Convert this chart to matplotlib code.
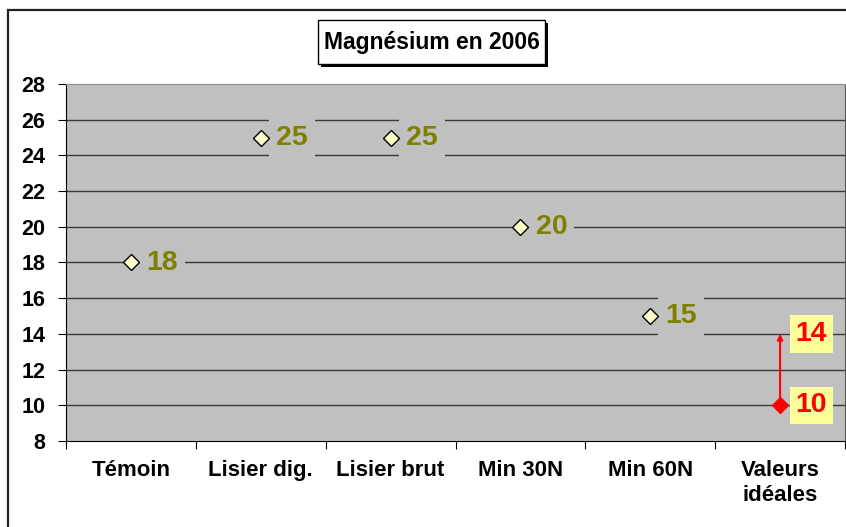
import matplotlib.pyplot as plt
from matplotlib.patches import Rectangle

plt.rcParams['font.family'] = ['Liberation Sans', 'DejaVu Sans']
plt.rcParams['font.weight'] = 'bold'

# Data
categories = ['Témoin', 'Lisier dig.', 'Lisier brut', 'Min 30N', 'Min 60N', 'Valeurs\nidéales']
mg_values = [18, 25, 25, 20, 15]
ideal_low = 10
ideal_high = 14
yticks = [8, 10, 12, 14, 16, 18, 20, 22, 24, 26, 28]

fig = plt.figure(figsize=(8.46, 5.27), dpi=100)
ax = fig.add_axes([66 / 846, 1 - 441 / 527, 779 / 846, 357 / 527])

# Outer chart frame
fig.patches.append(Rectangle((8 / 846, -0.05), 1.0, 1 - 10 / 527 + 0.05,
                             transform=fig.transFigure, fill=False,
                             edgecolor='#222222', lw=1.6, zorder=0))

ax.set_facecolor('#C0C0C0')
ax.set_xlim(0, 6)
ax.set_ylim(8, 28)
ax.set_yticks(yticks)
for y in yticks[1:-1]:
  ax.axhline(y, color='#3a3a3a', lw=1, zorder=1)

xpos = [i + 0.5 for i in range(len(categories))]

# Measured values
ax.plot(xpos[:5], mg_values, linestyle='none', marker='D', markersize=8,
        mfc='#FFFFCC', mec='black', mew=1, zorder=4)
for x, v in zip(xpos[:5], mg_values):
  ax.annotate(str(v), (x, v), xytext=(11, 0), textcoords='offset points',
              ha='left', va='center', fontsize=20.5, fontweight='bold', color='#808000',
              bbox=dict(boxstyle='square,pad=0.25', fc='#C0C0C0', ec='none'), zorder=3)

# Ideal range
ax.annotate('', xy=(xpos[5], ideal_high), xytext=(xpos[5], ideal_low),
            arrowprops=dict(arrowstyle='-|>', color='red', lw=1.5, mutation_scale=8,
                            shrinkA=0, shrinkB=0), zorder=4)
ax.plot([xpos[5]], [ideal_low], linestyle='none', marker='D', markersize=8,
        mfc='red', mec='red', zorder=5)
for v in [ideal_high, ideal_low]:
  ax.annotate(str(v), (xpos[5], v), xytext=(11, 0), textcoords='offset points',
              ha='left', va='center', fontsize=20.5, fontweight='bold', color='red',
              bbox=dict(boxstyle='square,pad=0.2', fc='#FFFF99', ec='none'), zorder=3)

# Axes styling
ax.set_xticks(range(7))
ax.set_xticklabels([])
ax.set_xticks(xpos, minor=True)
ax.set_xticklabels(categories, minor=True, fontsize=16, fontweight='bold')
ax.tick_params(axis='x', which='major', length=6, direction='out', color='black')
ax.tick_params(axis='x', which='minor', length=0, pad=14)
ax.tick_params(axis='y', length=6, direction='out', pad=9, labelsize=15.5)
for t in ax.get_yticklabels():
  t.set_fontweight('bold')
ax.spines['left'].set_color('black')
ax.spines['bottom'].set_color('black')
ax.spines['top'].set_color('#909090')
ax.spines['right'].set_color('#555555')

# Title box with shadow
bx, by, bw, bh = 318 / 846, 1 - 64 / 527, 227 / 846, 44 / 527
fig.patches.append(Rectangle((bx + 3 / 846, by - 3 / 527), bw, bh, transform=fig.transFigure,
                             fc='black', ec='none', zorder=5))
fig.patches.append(Rectangle((bx, by), bw, bh, transform=fig.transFigure,
                             fc='white', ec='black', lw=1, zorder=6))
fig.text(bx + bw / 2, by + bh / 2, 'Magnésium en 2006', ha='center', va='center',
         fontsize=16.5, fontweight='bold', zorder=7)

plt.savefig('out.png', dpi=100)
